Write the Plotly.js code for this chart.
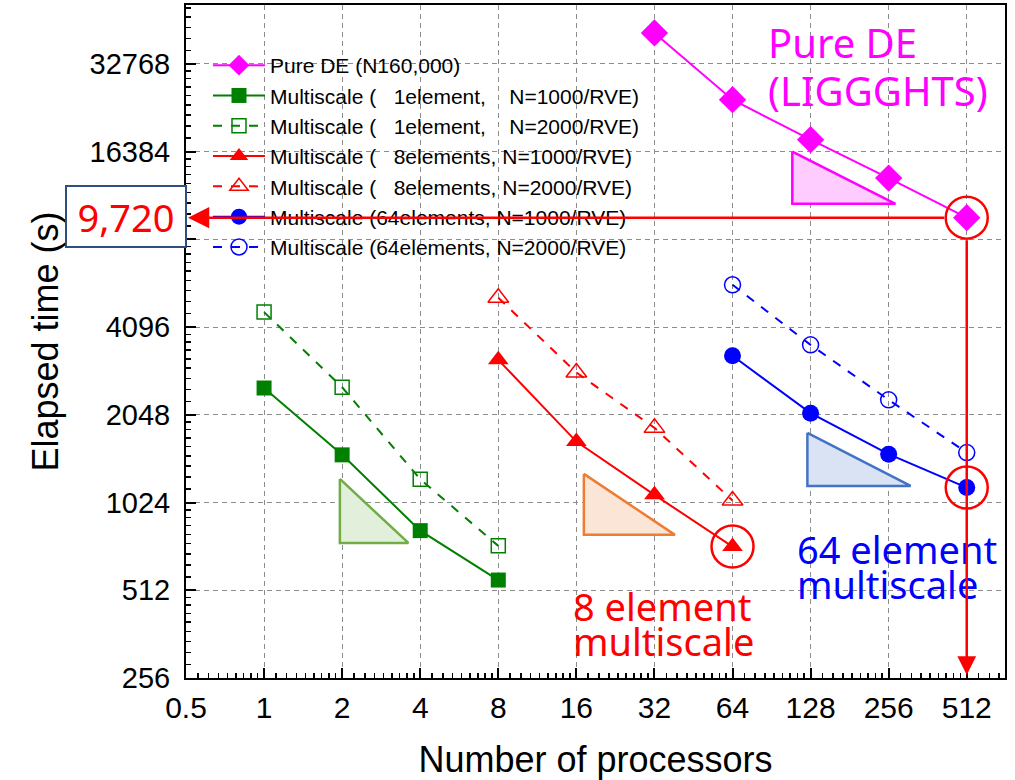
<!DOCTYPE html>
<html>
<head>
<meta charset="utf-8">
<script src="https://cdn.plot.ly/plotly-3.0.1.min.js"></script>
<style>html,body{margin:0;padding:0;background:#fff;}#chart{width:1015px;height:780px;}</style>
</head>
<body>
<div id="chart"></div>
<script>
// ---------- data ----------
const procPure = [32, 64, 128, 256, 512];
const timePure = [41800, 24680, 17990, 13290, 9720];

const proc1 = [1, 2, 4, 8];
const time1e_N1000 = [2530, 1492, 820, 555];
const time1e_N2000 = [4608, 2545, 1231, 727];

const proc8 = [8, 16, 32, 64];
const time8e_N1000 = [3161, 1657, 1088, 723];
const time8e_N2000 = [5161, 2859, 1847, 1040];

const proc64 = [64, 128, 256, 512];
const time64e_N1000 = [3263, 2074, 1500, 1152];
const time64e_N2000 = [5717, 3558, 2304, 1519];

const seriesNames = [
  'Pure DE (N160,000)',
  'Multiscale (\u00a0\u00a0 1element,\u00a0\u00a0\u00a0 N=1000/RVE)',
  'Multiscale (\u00a0\u00a0 1element,\u00a0\u00a0\u00a0 N=2000/RVE)',
  'Multiscale (\u00a0\u00a0 8elements, N=1000/RVE)',
  'Multiscale (\u00a0\u00a0 8elements, N=2000/RVE)',
  'Multiscale (64elements, N=1000/RVE)',
  'Multiscale (64elements, N=2000/RVE)'
];

const xTickVals = [0.5, 1, 2, 4, 8, 16, 32, 64, 128, 256, 512];
const xTickText = ['0.5', '1', '2', '4', '8', '16', '32', '64', '128', '256', '512'];
const yTickVals = [256, 512, 1024, 2048, 4096, 8192, 16384, 32768];
const yTickText = ['256', '512', '1024', '2048', '4096', '', '16384', '32768'];

// slope-indicator triangles (data coordinates)
const triPinkX = [108.8, 108.8, 272, 108.8];   const triPinkY = [16360, 10845, 10845, 16360];
const triGreenX = [1.96, 1.96, 3.6, 1.96];      const triGreenY = [1234, 744, 744, 1234];
const triOrangeX = [17.1, 17.1, 38.4, 17.1];    const triOrangeY = [1284, 793, 793, 1284];
const triBlueX = [124.4, 124.4, 311, 124.4];    const triBlueY = [1776, 1167, 1167, 1776];

// highlighted points (circled)
const highlightX = [procPure[4], proc64[3], proc8[3]];
const highlightY = [timePure[4], time64e_N1000[3], time8e_N1000[3]];
const highlightValue = '9,720';

// minor ticks (8 per octave, linear within octave)
const minorX = [], minorY = [];
for (let p = -1; p <= 9; p++) for (let k = 1; k <= 8; k++) minorX.push(Math.pow(2, p) * (1 + k / 9));
for (let p = 8; p <= 15; p++) for (let k = 1; k <= 8; k++) minorY.push(Math.pow(2, p) * (1 + k / 9));

// ---------- traces ----------
function tri(x, y, fill, line) {
  return {x: x, y: y, mode: 'lines', fill: 'toself', fillcolor: fill,
          line: {color: line, width: 2.5}, showlegend: false, hoverinfo: 'skip'};
}
const GREEN = '#008000', RED = '#ff0000', BLUE = '#0000ff', MAG = '#ff00ff';

const traces = [
  tri(triPinkX, triPinkY, '#ffccff', MAG),
  tri(triGreenX, triGreenY, '#e2efda', '#70ad47'),
  tri(triOrangeX, triOrangeY, '#fbe5d6', '#ed7d31'),
  tri(triBlueX, triBlueY, '#dae3f3', '#4472c4'),
  {x: procPure, y: timePure, name: seriesNames[0], mode: 'lines+markers',
   line: {color: MAG, width: 2}, marker: {symbol: 'diamond', size: 21, color: MAG}},
  {x: proc1, y: time1e_N1000, name: seriesNames[1], mode: 'lines+markers',
   line: {color: GREEN, width: 2}, marker: {symbol: 'square', size: 15, color: GREEN}},
  {x: proc1, y: time1e_N2000, name: seriesNames[2], mode: 'lines+markers',
   line: {color: GREEN, width: 2, dash: 'dash'}, marker: {symbol: 'square-open', size: 14, color: GREEN, line: {width: 1.5}}},
  {x: proc8, y: time8e_N1000, name: seriesNames[3], mode: 'lines+markers',
   line: {color: RED, width: 2}, marker: {symbol: 'triangle-up', size: 18, color: RED}},
  {x: proc8, y: time8e_N2000, name: seriesNames[4], mode: 'lines+markers',
   line: {color: RED, width: 2, dash: 'dash'}, marker: {symbol: 'triangle-up-open', size: 18, color: RED, line: {width: 1.5}}},
  {x: proc64, y: time64e_N1000, name: seriesNames[5], mode: 'lines+markers',
   line: {color: BLUE, width: 2}, marker: {symbol: 'circle', size: 17, color: BLUE}},
  {x: proc64, y: time64e_N2000, name: seriesNames[6], mode: 'lines+markers',
   line: {color: BLUE, width: 2, dash: 'dash'}, marker: {symbol: 'circle-open', size: 16, color: BLUE, line: {width: 1.5}}},
  {x: highlightX, y: highlightY, mode: 'markers', showlegend: false, hoverinfo: 'skip',
   marker: {symbol: 'circle-open', size: 42, color: RED, line: {width: 2.5, color: RED}}},
  // dummy trace carrying the minor-tick overlay axes
  {x: [1], y: [1024], xaxis: 'x2', yaxis: 'y2', mode: 'markers', marker: {opacity: 0},
   showlegend: false, hoverinfo: 'skip'}
];

// ---------- layout helpers ----------
const L = 186, R = 1005, T = 5, B = 678;
const px2paperX = px => (px - L) / (R - L);
const px2paperY = py => 1 - (py - T) / (B - T);
const LOG2 = Math.log10(2);
const xRange = [Math.log10(0.5), 9.49 * LOG2];
const yRange = [8 * LOG2, 15.67 * LOG2];

const gridStyle = {showgrid: true, gridcolor: '#8c8c8c', gridwidth: 1, griddash: '5px,4px'};

function txt(text, px, py, color, size) {
  return {text: text, xref: 'paper', yref: 'paper', x: px2paperX(px), y: px2paperY(py),
          xanchor: 'left', yanchor: 'middle', showarrow: false,
          font: {family: 'Noto Sans, Open Sans, sans-serif', size: size, color: color}};
}

const layout = {
  width: 1015, height: 780,
  margin: {l: L, r: 1015 - R, t: T, b: 780 - B},
  paper_bgcolor: '#ffffff', plot_bgcolor: '#ffffff',
  showlegend: true,
  legend: {x: px2paperX(208), y: px2paperY(45), xanchor: 'left', yanchor: 'top',
           bgcolor: 'rgba(0,0,0,0)', borderwidth: 0, tracegroupgap: 0, itemwidth: 52,
           font: {family: 'Liberation Sans, Arial, sans-serif', size: 21, color: '#000'}},
  xaxis: Object.assign({
    type: 'log', range: xRange, tickmode: 'array', tickvals: xTickVals, ticktext: xTickText,
    ticks: 'inside', ticklen: 10, tickwidth: 2, tickcolor: '#000',
    showline: true, linecolor: '#000', linewidth: 2, mirror: true, zeroline: false,
    ticklabelstandoff: 2,
    tickfont: {family: 'Liberation Sans Narrow, Arial Narrow, Liberation Sans, sans-serif', size: 30, color: '#000'},
    title: {text: 'Number of processors', standoff: 30,
            font: {family: 'Liberation Sans, Arial, sans-serif', size: 36, color: '#000'}}
  }, gridStyle),
  yaxis: Object.assign({
    type: 'log', range: yRange, tickmode: 'array', tickvals: yTickVals, ticktext: yTickText,
    ticks: 'inside', ticklen: 10, tickwidth: 2, tickcolor: '#000',
    showline: true, linecolor: '#000', linewidth: 2, mirror: true, zeroline: false,
    ticklabelstandoff: 8,
    tickfont: {family: 'Liberation Sans, Arial, sans-serif', size: 29, color: '#000'},
    title: {text: 'Elapsed time (s)', standoff: 20,
            font: {family: 'Liberation Sans, Arial, sans-serif', size: 36, color: '#000'}}
  }, gridStyle),
  xaxis2: {type: 'log', range: xRange, overlaying: 'x', anchor: 'y', side: 'bottom',
           tickmode: 'array', tickvals: minorX, ticks: 'inside', ticklen: 5, tickwidth: 1.5,
           tickcolor: '#000', showticklabels: false, showgrid: false, showline: false, zeroline: false},
  yaxis2: {type: 'log', range: yRange, overlaying: 'y', anchor: 'x', side: 'left',
           tickmode: 'array', tickvals: minorY, ticks: 'inside', ticklen: 5, tickwidth: 1.5,
           tickcolor: '#000', showticklabels: false, showgrid: false, showline: false, zeroline: false},
  annotations: [
    txt('Pure DE', 766, 42, MAG, 40),
    txt('(LIGGGHTS)', 766, 90, MAG, 40),
    txt('8 element', 571, 606, RED, 38),
    txt('multiscale', 571, 641, RED, 38),
    txt('64 element', 795, 549, BLUE, 38),
    txt('multiscale', 795, 584, BLUE, 38),
    // horizontal arrow to the y axis
    {x: Math.log10(0.5), y: Math.log10(highlightY[0]), xref: 'x', yref: 'y',
     ax: Math.log10(highlightX[0]), ay: Math.log10(highlightY[0]), axref: 'x', ayref: 'y',
     text: '', showarrow: true, arrowhead: 2, arrowsize: 1.7, arrowwidth: 2.5, arrowcolor: RED,
     standoff: 2, startstandoff: 21},
    // vertical arrow down to the x axis
    {x: Math.log10(highlightX[0]), y: Math.log10(262), xref: 'x', yref: 'y',
     ax: Math.log10(highlightX[0]), ay: Math.log10(highlightY[0]), axref: 'x', ayref: 'y',
     text: '', showarrow: true, arrowhead: 2, arrowsize: 1.5, arrowwidth: 2.5, arrowcolor: RED,
     standoff: 0, startstandoff: 21},
    // value box
    {text: highlightValue, xref: 'paper', yref: 'y', x: px2paperX(187), y: Math.log10(highlightY[0]) + 0.004,
     xanchor: 'right', yanchor: 'middle', showarrow: false,
     width: 116, height: 57, bgcolor: '#ffffff', bordercolor: '#2f4f7f', borderwidth: 2, borderpad: 1,
     font: {family: 'Noto Sans, Open Sans, sans-serif', size: 38, color: RED}}
  ]
};

Plotly.newPlot('chart', traces, layout, {displayModeBar: false, staticPlot: true});
</script>
</body>
</html>
